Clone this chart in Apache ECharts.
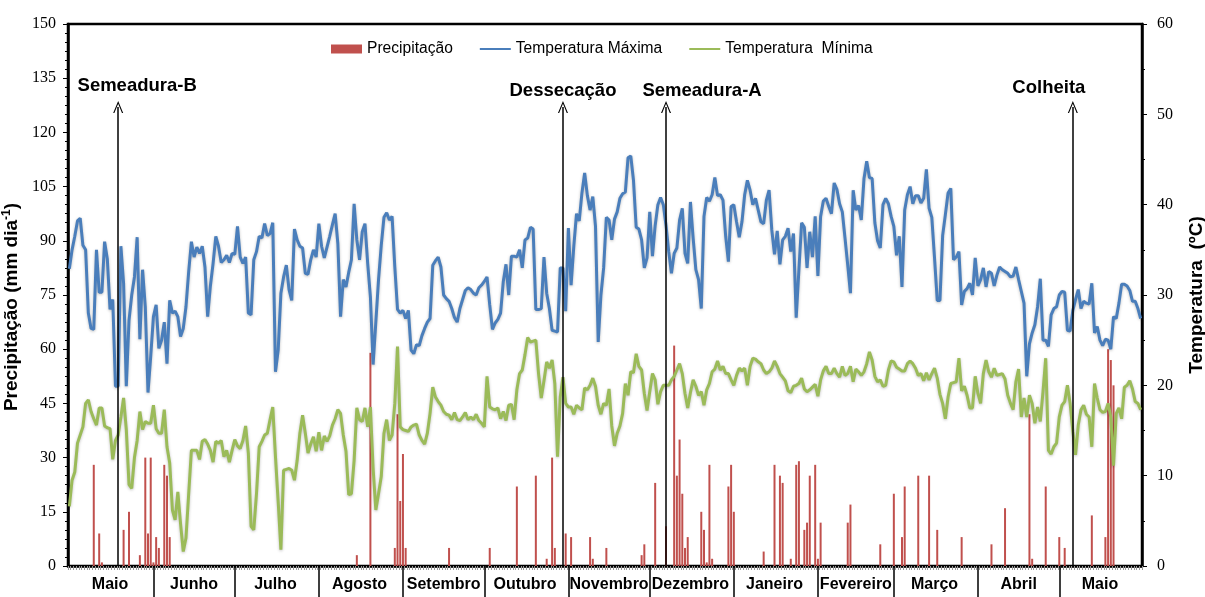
<!DOCTYPE html>
<html>
<head>
<meta charset="utf-8">
<script src="https://cdn.jsdelivr.net/npm/echarts@6/dist/echarts.min.js"></script>
<style>
  html, body { margin: 0; padding: 0; background: #fff; }
  #chart { width: 1205px; height: 597px; }
</style>
</head>
<body>
<div id="chart"></div>
<script>
// Months covered by the daily record (May to May, 396 days)
const monthNames = ['Maio', 'Junho', 'Julho', 'Agosto', 'Setembro', 'Outubro', 'Novembro',
  'Dezembro', 'Janeiro', 'Fevereiro', 'Março', 'Abril', 'Maio'];
const monthDays = [31, 30, 31, 31, 30, 31, 30, 31, 31, 28, 31, 30, 31];
const monthNums = [5, 6, 7, 8, 9, 10, 11, 12, 1, 2, 3, 4, 5];

// Daily maximum temperature (°C)
const tMax = [
  32.9, 35, 36.5, 38.2, 38.5, 35.5, 35, 28, 26.3, 26.2,
  35, 30.3, 30.3, 35.9, 34, 28.4, 29.5, 19.9, 19.9, 35.4,
  31.3, 19.9, 27.2, 30, 32, 36.4, 25.1, 32.8, 28.7, 19.2,
  23.2, 27.6, 28.9, 24.1, 25, 27, 22.4, 29.4, 28, 28.2,
  27.6, 25.4, 26.3, 28.7, 32.6, 35.9, 34.2, 35.3, 34.6, 35.4,
  33.1, 27.6, 31, 33.5, 36.5, 35.4, 33.6, 33.9, 34.4, 33.6,
  34.6, 34.5, 37.6, 34.2, 33.5, 34.2, 28, 27.8, 33.9, 34.8,
  36.5, 36.3, 37.9, 36.6, 36.8, 38, 21.5, 23.9, 30.2, 32,
  33.3, 30.6, 29.4, 37.3, 36.1, 35.4, 35.2, 32.4, 32.3, 33.9,
  35, 34.2, 37.9, 35.4, 34.1, 35.3, 36.5, 37.8, 39, 35.7,
  27.6, 31.7, 30.9, 32.5, 33.9, 40.1, 36.1, 33.9, 37, 37.9,
  33.5, 29.8, 22.3, 27, 31.7, 35.5, 38.6, 39.1, 38.3, 38.7,
  33.1, 28.4, 28, 28.3, 27.4, 28.3, 23.9, 23.5, 24.5, 24.4,
  25.5, 26.3, 27, 27.4, 33.3, 33.8, 34.2, 33.1, 30, 29.6,
  29.3, 28.5, 27.5, 27, 28.5, 29.5, 30.5, 30.8, 30.6, 30.2,
  30, 30.8, 31.1, 31.5, 32, 28.9, 26.2, 26.9, 27.3, 28,
  31.5, 33.4, 30, 34.3, 34.3, 34.2, 35, 33, 36.1, 36.3,
  37.5, 37.3, 28.4, 28.4, 28.5, 34.2, 30.2, 28.5, 26.1, 26,
  25.9, 33, 33, 28.2, 37.4, 31.1, 35.4, 39, 38.2, 41.3,
  43.5, 41, 39.4, 40.9, 37.6, 24.8, 30, 33, 38.6, 38.3,
  36.1, 38.4, 39.2, 40.7, 41.2, 41.4, 45.2, 45.4, 42.7, 37.5,
  37.3, 36.1, 33, 34.1, 39.2, 34.3, 37.7, 40, 40.8, 40,
  37.7, 34.8, 32.4, 34.6, 35.2, 38.3, 39.6, 34.6, 33.5, 40.3,
  36.3, 32.8, 31.7, 28.5, 38.7, 40.8, 40.4, 41.1, 43, 41,
  41.1, 40.5, 36.5, 33.7, 39.8, 40, 38.1, 36.4, 38.1, 41.1,
  42.7, 41.6, 40, 40.7, 39.4, 38.1, 37.9, 40.5, 41.6, 37.2,
  34.5, 37.1, 33.4, 36.1, 36.5, 37.4, 34.8, 36.8, 27.5, 32.8,
  38, 37.5, 33, 37, 34.2, 38.7, 32.1, 38.7, 40.4, 40.7,
  39.8, 39, 42.4, 41.7, 40.1, 39.2, 36.3, 33.3, 30.2, 41.6,
  39.4, 39.9, 38.3, 42.9, 44.8, 43, 42.9, 38, 36, 35.2,
  40, 40.7, 40.1, 38.7, 37.6, 34.4, 36.5, 30.9, 39.4, 41.1,
  42, 40.1, 41, 41, 40.2, 40.7, 43.9, 39.6, 38.6, 34.1,
  29.4, 29.4, 36.6, 38.9, 41.3, 41.8, 33.9, 34.2, 34.8, 28.9,
  30.4, 30.7, 31.3, 30, 34.1, 31, 31.7, 33, 30.9, 32.6,
  32.4, 31, 32.2, 33.1, 32.8, 32.6, 32.4, 32, 32.1, 33.1,
  31.7, 30.4, 29.1, 21, 24.6, 25.8, 26.7, 28.7, 31.8, 25,
  25, 24.3, 27.8, 28.5, 28.7, 30, 30.4, 30.3, 26.1, 26,
  28.3, 29.5, 30.6, 28.5, 29.3, 29.1, 29, 31.3, 25.8, 26.5,
  25, 24.4, 25.1, 25, 24, 27.6, 27.4, 29.1, 31.2, 31.2,
  31, 30.5, 29.3, 29.3, 28.5, 27.4
];

// Daily minimum temperature (°C)
const tMin = [
  6.6, 9.5, 10.4, 13.6, 14.5, 15.4, 18, 18.4, 17.1, 16.3,
  15.6, 17.5, 17.5, 15.5, 15.3, 15.2, 11.8, 13.9, 14.5, 16.5,
  18.6, 15.1, 9, 8.6, 12, 13.9, 17.1, 15.1, 16, 15.8,
  15.8, 17.8, 15.2, 14.7, 14.7, 17.3, 13.2, 11.4, 6.2, 5.1,
  8.2, 4.7, 1.6, 3.1, 8, 12.8, 12.8, 12.8, 11.8, 13.8,
  14, 13.5, 12.8, 11.5, 13.8, 13.6, 13.9, 12.1, 12.8, 11.5,
  12.8, 14, 13.3, 13, 13.9, 15.5, 12.5, 4.4, 4, 8,
  13.2, 13.8, 14.5, 14.7, 16.2, 17.6, 12.1, 7.1, 1.8, 10.6,
  10.7, 10.8, 10.6, 9.5, 11.7, 14.7, 16.7, 14.7, 12.5, 13.5,
  14.3, 12.7, 14.8, 12.8, 14.4, 13.8, 14.4, 15.6, 16.3, 17.3,
  16.9, 14.5, 12.7, 7.9, 8, 11.7, 17.5, 16.2, 16, 17.5,
  15.4, 17.6, 10.8, 6.2, 8, 9.9, 14.7, 16.2, 13.9, 14.5,
  18, 24.3, 15.4, 15.1, 15, 14.9, 15.4, 15.6, 15.7, 14.5,
  13.9, 13.5, 14.7, 16.9, 19.8, 18.7, 18.2, 17.8, 17.1, 16.8,
  16.7, 16.2, 17, 16.2, 16.1, 16.5, 17, 16.2, 16.5, 16.2,
  16.8, 16.1, 15.8, 15.4, 21, 17.6, 17.4, 17.3, 17.5, 16.3,
  17.1, 16.1, 17.8, 17.9, 16.2, 19.5, 21.3, 21.7, 23.4, 25.3,
  24.8, 24.9, 25, 21.3, 18.6, 20.5, 22.6, 21.9, 22.8, 20.2,
  12.1, 18.7, 20.9, 18, 17.6, 17.6, 16.8, 17.8, 17.5, 17.3,
  19.7, 19.5, 20, 20.8, 19.9, 17.8, 16.8, 18, 17.8, 19.6,
  15.5, 13.3, 14.7, 15.5, 16.9, 20.2, 18.9, 21.5, 21.4, 23.5,
  22.1, 21.7, 19.1, 17.2, 19.3, 21.3, 20.6, 17.9, 19.3, 20,
  20, 20, 20.6, 21, 21.7, 22.4, 21.3, 19.1, 17.5, 19.2,
  20.6, 19.9, 18.9, 19.3, 17.8, 19.5, 20.2, 21.5, 21.8, 22.7,
  21.7, 22.1, 21.3, 21.3, 20.6, 20, 21.1, 21.9, 21.6, 21.9,
  20, 22.1, 23, 22.9, 22.6, 22.4, 21.7, 21.3, 21.5, 21.9,
  22.7, 22.1, 21.3, 20.9, 20.5, 19.4, 19.2, 19.9, 20, 20.2,
  20.8, 19.6, 19.3, 19.5, 19.8, 20.1, 18.8, 20.6, 21.6, 22.1,
  21.3, 21.3, 21.9, 21.3, 20.9, 22.1, 21.1, 21.3, 22.1, 20.4,
  21.8, 21.5, 21.1, 21.5, 22.4, 23.7, 22.8, 21, 20.4, 20.6,
  19.9, 20, 21.7, 22.7, 22.6, 22, 21.8, 21.6, 21.6, 22.4,
  22.7, 22.4, 21.9, 21.1, 21.3, 20.5, 21.4, 20.6, 21.3, 21.9,
  20.8, 19, 18, 16.3, 18.7, 20.2, 20.3, 20.4, 23, 19.4,
  19.9, 18.9, 17.5, 17.5, 21, 19.1, 18, 21.3, 22.8, 21.5,
  20.9, 21.9, 21.1, 21.2, 21.3, 20.7, 18.9, 18, 17.3, 20.4,
  21.8, 16.5, 18.6, 16.5, 18.9, 18, 15.8, 17.6, 16, 19.3,
  23, 12.8, 12.4, 13.2, 13.6, 16.5, 17.8, 18.2, 20, 18,
  14.9, 12.3, 15.6, 17.3, 17.8, 16.8, 16.5, 13.2, 20.2, 18.6,
  17.3, 17, 17.1, 18, 16.5, 11.1, 16.9, 17.5, 16.3, 19.8,
  20, 20.5, 19.6, 18.2, 18, 17.3
];

// Rainy days (index of the day in the record) and rainfall (mm)
const rainDay = [9, 11, 12, 20, 22, 26, 28, 29, 30, 31, 32, 33, 35, 36, 37,
  106, 111, 120, 121, 122, 123, 124, 140, 155, 165, 172, 176, 178, 179, 183, 185,
  192, 193, 198, 211, 212, 216, 220, 223, 224, 225, 226, 227, 228, 233, 234, 235,
  236, 237, 243, 244, 245, 256, 260, 262, 263, 266, 268, 269, 271, 272, 273, 275,
  276, 277, 287, 288, 299, 304, 307, 308, 313, 317, 320, 329, 340, 345, 354, 355,
  360, 365, 367, 377, 382, 383, 384, 385];
const rainMm = [28, 9, 1, 10, 15, 3, 30, 9, 30, 1, 8, 5, 28, 25, 8,
  3, 59, 5, 42, 18, 31, 5, 5, 5, 22, 25, 2, 30, 5, 9, 8,
  8, 2, 5, 3, 6, 23, 11, 61, 25, 35, 20, 5, 8, 15, 10, 1,
  28, 2, 22, 28, 15, 4, 28, 25, 23, 2, 28, 29, 10, 12, 25, 28,
  2, 12, 12, 17, 6, 20, 8, 22, 25, 25, 10, 8, 6, 16, 42, 2,
  22, 8, 5, 14, 8, 60, 57, 50];

// Field operations: day index, label and label placement around the arrow
const eventDay = [18, 182, 220, 370];
const eventName = ['Semeadura-B', 'Dessecação', 'Semeadura-A', 'Colheita'];
const eventLabelShift = [[19, -21], [0, -16], [36, -16], [-24, -19]];
const arrowTop = 127;

// Axis ranges
const rainTicks = { min: 0, max: 150, interval: 15 };
const tempTicks = { min: 0, max: 60, interval: 10 };

// ---- derived structures ----
const days = [];
const dayMonth = [];
const monthStart = [];
const monthMid = [];
monthDays.forEach((n, m) => {
  monthStart.push(days.length);
  monthMid.push(days.length + Math.floor(n / 2));
  for (let d = 1; d <= n; d++) {
    days.push(d + '/' + monthNums[m] + '#' + m);
    dayMonth.push(m);
  }
});
const rain = days.map(() => '-');
rainDay.forEach((d, i) => { rain[d] = rainMm[i]; });

// open arrow head (thin chevron)
const arrowHead = 'path://M0,12 L5,0 L10,12 L8.8,12 L5,2.6 L1.2,12 Z';

const markLines = eventDay.map(d => [
  { coord: [d, 0], symbol: 'none' },
  { coord: [d, arrowTop], symbol: arrowHead, symbolSize: [10, 12] }
]);
const markPoints = eventDay.map((d, i) => ({
  name: eventName[i],
  coord: [d, arrowTop],
  label: { offset: eventLabelShift[i] }
}));

const sans = 'Liberation Sans, Arial, sans-serif';
const serif = 'Liberation Serif, Times New Roman, serif';

const chart = echarts.init(document.getElementById('chart'), null, { renderer: 'canvas' });
chart.setOption({
  animation: false,
  backgroundColor: '#fff',
  grid: {
    left: 68, right: 63, top: 24, bottom: 31,
    containLabel: false, outerBoundsMode: 'none',
    show: true, borderColor: '#000', borderWidth: 2.5
  },
  legend: {
    left: 326, top: 36,
    itemWidth: 31, itemHeight: 9, itemGap: 26,
    textStyle: { fontFamily: sans, fontSize: 15.6, color: '#000' },
    data: [
      { name: 'Precipitação', icon: 'rect' },
      { name: 'Temperatura Máxima', itemStyle: { opacity: 0 } },
      { name: 'Temperatura  Mínima', itemStyle: { opacity: 0 } }
    ]
  },
  xAxis: [
    {
      type: 'category', data: days, boundaryGap: true,
      axisLine: { lineStyle: { color: '#000', width: 2.5 } },
      axisTick: { show: true, interval: 0, length: 4, lineStyle: { color: '#999', width: 1 } },
      axisLabel: { show: false },
      splitLine: { show: false }
    },
    {
      // month separators and month names
      type: 'category', data: days, boundaryGap: true, position: 'bottom',
      axisLine: { show: false },
      axisTick: {
        show: true, length: 31, alignWithLabel: true,
        interval: (i) => i > 0 && monthStart.indexOf(i) >= 0,
        lineStyle: { color: '#000', width: 1.5 }
      },
      axisLabel: {
        show: true, interval: (i) => monthMid.indexOf(i) >= 0,
        formatter: (v, i) => monthNames[dayMonth[i]],
        fontFamily: sans, fontWeight: 'bold', fontSize: 16, color: '#000', margin: 11
      },
      splitLine: { show: false }
    }
  ],
  yAxis: [
    {
      type: 'value', position: 'left',
      min: rainTicks.min, max: rainTicks.max, interval: rainTicks.interval,
      name: 'Precipitação (mm dia{sup|-1})',
      nameLocation: 'middle', nameGap: 38, nameRotate: 90,
      nameTextStyle: {
        fontFamily: sans, fontWeight: 'bold', fontSize: 19, color: '#000',
        padding: [0, 24, 0, 0],
        rich: { sup: { fontFamily: sans, fontWeight: 'bold', fontSize: 12, color: '#000', verticalAlign: 'top', padding: [0, 0, 9, 0] } }
      },
      axisLine: { show: true, lineStyle: { color: '#000', width: 2.5 } },
      axisTick: { show: true, length: 5, lineStyle: { color: '#000' } },
      minorTick: { show: true, splitNumber: 6, length: 3, lineStyle: { color: '#000' } },
      axisLabel: { fontFamily: serif, fontSize: 16, color: '#000', margin: 12 },
      splitLine: { show: false }
    },
    {
      type: 'value', position: 'right',
      min: tempTicks.min, max: tempTicks.max, interval: tempTicks.interval,
      name: 'Temperatura  (ºC)',
      nameLocation: 'middle', nameGap: 45, nameRotate: 90,
      nameTextStyle: { fontFamily: sans, fontWeight: 'bold', fontSize: 19, color: '#000' },
      axisLine: { show: true, lineStyle: { color: '#000', width: 2.5 } },
      axisTick: { show: true, length: 5, lineStyle: { color: '#000' } },
      minorTick: { show: true, splitNumber: 2, length: 3, lineStyle: { color: '#000' } },
      axisLabel: { fontFamily: serif, fontSize: 16, color: '#000', margin: 15 },
      splitLine: { show: false }
    }
  ],
  series: [
    {
      name: 'Precipitação', type: 'bar', xAxisIndex: 0, yAxisIndex: 0,
      data: rain, barWidth: 2, itemStyle: { color: '#c0504d' },
      markLine: {
        silent: true, animation: false,
        lineStyle: { color: '#000', width: 1.5, type: 'solid' },
        label: { show: false },
        data: markLines
      },
      markPoint: {
        silent: true, animation: false,
        symbol: 'circle', symbolSize: 0,
        label: {
          show: true, formatter: '{b}', position: 'inside',
          fontFamily: sans, fontWeight: 'bold', fontSize: 18.5, color: '#000'
        },
        data: markPoints
      }
    },
    {
      name: 'Temperatura Máxima', type: 'line', xAxisIndex: 0, yAxisIndex: 1,
      data: tMax, symbol: 'none', smooth: false, z: 3,
      lineStyle: { color: '#4a7ebb', width: 3, shadowColor: 'rgba(0,0,0,0.25)', shadowBlur: 3, shadowOffsetY: 1 },
      itemStyle: { color: '#4a7ebb' }
    },
    {
      name: 'Temperatura  Mínima', type: 'line', xAxisIndex: 0, yAxisIndex: 1,
      data: tMin, symbol: 'none', smooth: false, z: 3,
      lineStyle: { color: '#9bbb59', width: 3, shadowColor: 'rgba(0,0,0,0.25)', shadowBlur: 3, shadowOffsetY: 1 },
      itemStyle: { color: '#9bbb59' }
    }
  ]
});
</script>
</body>
</html>
